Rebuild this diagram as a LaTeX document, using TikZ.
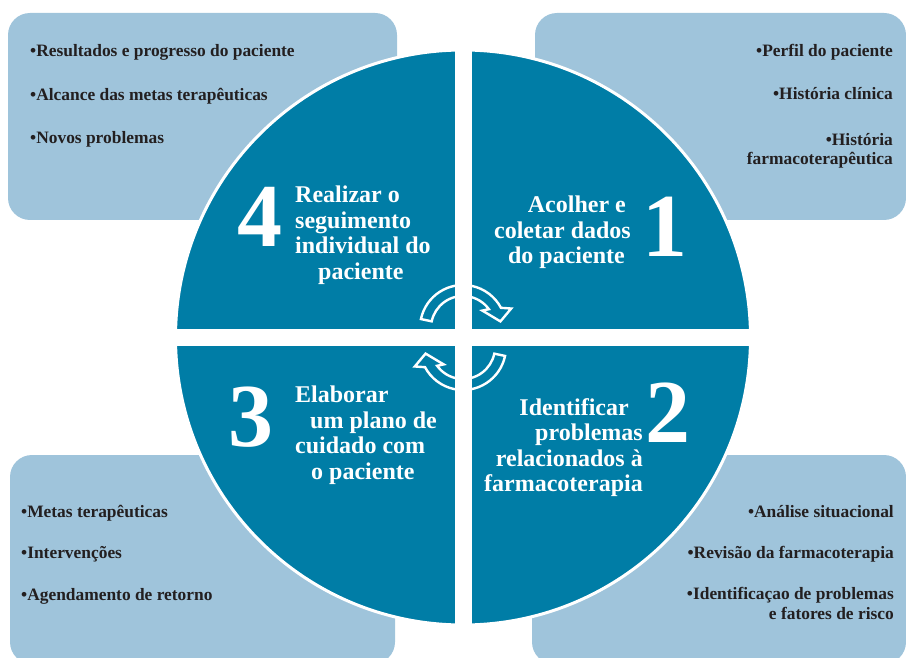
\documentclass[tikz,border=0pt]{standalone}
\usepackage{fontspec}
\setmainfont{Liberation Serif}
\usetikzlibrary{positioning}

\definecolor{circleblue}{RGB}{0,125,166}
\definecolor{boxblue}{RGB}{159,196,219}
\definecolor{darktext}{RGB}{35,31,32}

\tikzset{
  infobox/.style={fill=boxblue, rounded corners=22pt},
  title/.style={text=white, font=\bfseries\fontsize{24}{25.5}\selectfont, inner sep=0pt},
  number/.style={text=white, font=\bfseries\fontsize{90}{90}\selectfont, inner sep=0pt},
  listitem/.style={text=darktext, font=\bfseries\fontsize{17.4}{19.5}\selectfont, inner sep=0pt},
  cyclearrow/.style={draw=white, line width=2.4pt, line join=miter}
}

\begin{document}
\begin{tikzpicture}[x=1pt,y=-1pt]
  \useasboundingbox (0,0) rectangle (906,658);
  \clip (0,0) rectangle (906,658);

  % corner boxes
  \fill[infobox] (8,13) rectangle (397,220);
  \fill[infobox] (535,13) rectangle (906,220);
  \fill[infobox] (10,455) rectangle (395,664);
  \fill[infobox] (532,455) rectangle (906,664);

  % circle cut in four
  \filldraw[fill=circleblue, draw=white, line width=3pt] (463,337.5) circle (287.5);
  \fill[white] (455,45) rectangle (471.5,632);
  \fill[white] (172,329) rectangle (756,346);

  % cycle arrows
  \begin{scope}[shift={(463,328)}, yscale=-1]
    \draw[cyclearrow] (168:43) arc[start angle=168, end angle=28, radius=43]
      -- (22:52) -- (10:38) -- (42:26) -- (36:32)
      arc[start angle=36, end angle=168, radius=32] -- cycle;
  \end{scope}
  \begin{scope}[shift={(463,347)}, yscale=-1, rotate=180]
    \draw[cyclearrow] (168:43) arc[start angle=168, end angle=28, radius=43]
      -- (22:52) -- (10:38) -- (42:26) -- (36:32)
      arc[start angle=36, end angle=168, radius=32] -- cycle;
  \end{scope}

  % steps
  \node[title, anchor=north east, align=right] (q1) at (631,196)
    {Acolher e\hspace*{5pt}\\coletar dados\\do paciente\hspace*{6pt}};
  \node[title, anchor=north east, align=right] (q2) at (643,398)
    {Identificar\hspace*{14pt}\\problemas\hspace*{6pt}\\relacionados à\hspace*{6pt}\\farmacoterapia};
  \node[title, anchor=north west, align=left] (q3) at (295,386)
    {Elaborar\\\hspace*{15pt}um plano de\\cuidado com\\\hspace*{16pt}o paciente};
  \node[title, anchor=north west, align=left] (q4) at (295,186)
    {Realizar o\\seguimento\\individual do\\\hspace*{23pt}paciente};

  \node[number, anchor=base] (n1) at (665,257) {1};
  \node[number, anchor=base] (n2) at (668,442) {2};
  \node[number, anchor=base] (n3) at (251,446) {3};
  \node[number, anchor=base] (n4) at (260,247) {4};

  % lists
  \node[listitem, anchor=base west] (tl1) at (30,57) {•Resultados e progresso do paciente};
  \node[listitem, anchor=base west] (tl2) at (30,101) {•Alcance das metas terapêuticas};
  \node[listitem, anchor=base west] (tl3) at (30,144) {•Novos problemas};

  \node[listitem, anchor=base east] (tr1) at (893,57) {•Perfil do paciente};
  \node[listitem, anchor=base east] (tr2) at (893,100) {•História clínica};
  \node[listitem, anchor=base east, align=right] (tr3) at (893,165) {•História\\farmacoterapêutica};

  \node[listitem, anchor=base west] (bl1) at (21,517) {•Metas terapêuticas};
  \node[listitem, anchor=base west] (bl2) at (21,558) {•Intervenções};
  \node[listitem, anchor=base west] (bl3) at (21,600) {•Agendamento de retorno};

  \node[listitem, anchor=base east] (br1) at (894,517) {•Análise situacional};
  \node[listitem, anchor=base east] (br2) at (894,558) {•Revisão da farmacoterapia};
  \node[listitem, anchor=base east, align=right] (br3) at (894,619) {•Identificaçao de problemas\\e fatores de risco};
\end{tikzpicture}
\end{document}
